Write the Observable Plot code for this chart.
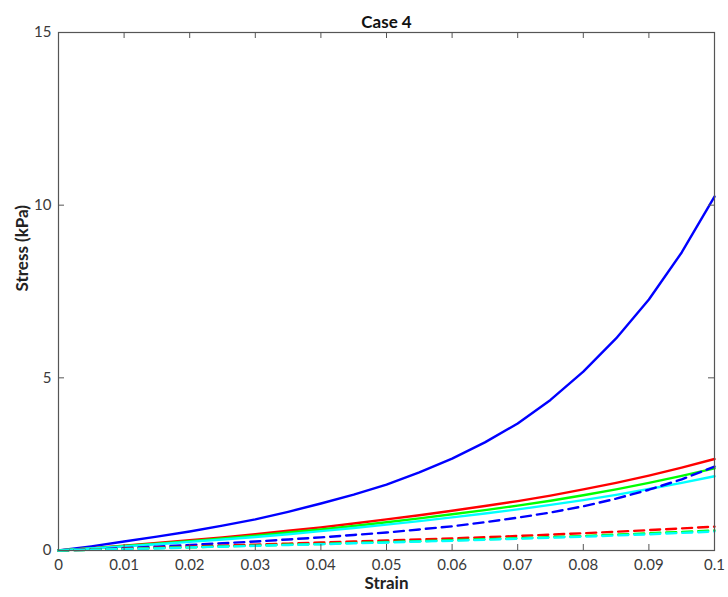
<!DOCTYPE html>
<html>
<head>
<meta charset="utf-8">
<script src="https://cdn.jsdelivr.net/npm/d3@7"></script>
<script src="https://cdn.jsdelivr.net/npm/@observablehq/plot@0.6"></script>
<style>
  html, body { margin: 0; padding: 0; background: #fff; }
  #chart svg { display: block; }
</style>
</head>
<body>
<div id="chart"></div>
<script>
// Strain samples (every 0.005)
const strain = [0, 0.005, 0.01, 0.015, 0.02, 0.025, 0.03, 0.035, 0.04, 0.045, 0.05,
                0.055, 0.06, 0.065, 0.07, 0.075, 0.08, 0.085, 0.09, 0.095, 0.1];

// Stress (kPa), solid curves
const blueSolid  = [0, 0.12, 0.26, 0.40, 0.55, 0.72, 0.90, 1.12, 1.36, 1.62, 1.91, 2.26, 2.66, 3.13, 3.68, 4.36, 5.18, 6.14, 7.27, 8.63, 10.25];
const redSolid   = [0, 0.07, 0.14, 0.22, 0.30, 0.38, 0.47, 0.57, 0.67, 0.78, 0.90, 1.02, 1.15, 1.29, 1.43, 1.59, 1.77, 1.96, 2.17, 2.40, 2.65];
const greenSolid = [0, 0.06, 0.13, 0.20, 0.27, 0.35, 0.43, 0.52, 0.61, 0.71, 0.82, 0.93, 1.05, 1.17, 1.30, 1.44, 1.60, 1.77, 1.96, 2.16, 2.38];
const cyanSolid  = [0, 0.06, 0.12, 0.18, 0.25, 0.32, 0.39, 0.47, 0.56, 0.65, 0.75, 0.85, 0.96, 1.07, 1.19, 1.32, 1.46, 1.61, 1.78, 1.96, 2.15];

// Stress (kPa), dashed curves
const blueDashed  = [0, 0.03, 0.07, 0.11, 0.16, 0.21, 0.26, 0.32, 0.38, 0.45, 0.52, 0.61, 0.70, 0.82, 0.95, 1.10, 1.28, 1.50, 1.76, 2.06, 2.43];
const redDashed   = [0, 0.025, 0.05, 0.08, 0.11, 0.14, 0.17, 0.20, 0.23, 0.26, 0.29, 0.32, 0.35, 0.385, 0.42, 0.46, 0.50, 0.545, 0.59, 0.64, 0.69];
const greenDashed = [0, 0.02, 0.04, 0.07, 0.09, 0.12, 0.14, 0.17, 0.19, 0.22, 0.245, 0.27, 0.30, 0.325, 0.355, 0.385, 0.42, 0.46, 0.50, 0.54, 0.58];
const cyanDashed  = [0, 0.02, 0.04, 0.06, 0.09, 0.11, 0.135, 0.16, 0.18, 0.21, 0.23, 0.26, 0.28, 0.31, 0.34, 0.37, 0.40, 0.435, 0.47, 0.51, 0.55];

// Axis ticks
const xTicks = [0, 0.01, 0.02, 0.03, 0.04, 0.05, 0.06, 0.07, 0.08, 0.09, 0.1];
const yTicks = [0, 5, 10, 15];

const series = [
  {values: blueSolid,   color: "#0000ff", dashed: false},
  {values: redSolid,    color: "#ff0000", dashed: false},
  {values: greenSolid,  color: "#00ff00", dashed: false},
  {values: cyanSolid,   color: "#00ffff", dashed: false},
  {values: blueDashed,  color: "#0000ff", dashed: true},
  {values: redDashed,   color: "#ff0000", dashed: true},
  {values: greenDashed, color: "#00ff00", dashed: true},
  {values: cyanDashed,  color: "#00ffff", dashed: true}
];

const W = 728, H = 597;
const mTop = 32, mRight = 14, mBottom = 47, mLeft = 58;
const frameW = W - mLeft - mRight, frameH = H - mTop - mBottom;
const tick = 6;
const axisColor = "#555";
const font = "Lato, 'Open Sans', sans-serif";

const lineMarks = series.map(s => Plot.line(
  s.values.map((v, i) => ({x: strain[i], y: v})),
  {x: "x", y: "y", stroke: s.color, strokeWidth: 2.4,
   strokeDasharray: s.dashed ? "10,6" : null, curve: "linear"}
));

const chart = Plot.plot({
  width: W, height: H,
  marginTop: mTop, marginRight: mRight, marginBottom: mBottom, marginLeft: mLeft,
  style: {fontFamily: font, fontSize: "15px", color: "#3a3a3a", background: "#fff"},
  x: {domain: [0, 0.1]},
  y: {domain: [0, 15]},
  marks: [
    ...lineMarks,
    Plot.frame({stroke: axisColor, strokeWidth: 1.2}),
    // inward ticks on all four sides
    Plot.ruleX(xTicks, {x: d => d, insetTop: frameH - tick, stroke: axisColor}),
    Plot.ruleX(xTicks, {x: d => d, insetBottom: frameH - tick, stroke: axisColor}),
    Plot.ruleY(yTicks, {y: d => d, insetRight: frameW - tick, stroke: axisColor}),
    Plot.ruleY(yTicks, {y: d => d, insetLeft: frameW - tick, stroke: axisColor}),
    Plot.axisX({ticks: xTicks, tickSize: 0, tickPadding: 9, tickFormat: d => String(d),
                label: null, fill: "#3a3a3a"}),
    Plot.axisY({ticks: yTicks, tickSize: 0, tickPadding: 7, tickFormat: d => String(d),
                label: null, fill: "#3a3a3a"}),
    Plot.text(["Strain"], {frameAnchor: "bottom", dy: 38, fontWeight: "bold", fontSize: 17, fill: "#222"}),
    Plot.text(["Stress (kPa)"], {frameAnchor: "left", dx: -36, rotate: -90, fontWeight: "bold", fontSize: 17, fill: "#222"}),
    Plot.text(["Case 4"], {frameAnchor: "top", dy: -17, fontWeight: "bold", fontSize: 17, fill: "#111"})
  ]
});

document.getElementById("chart").appendChild(chart);
</script>
</body>
</html>
